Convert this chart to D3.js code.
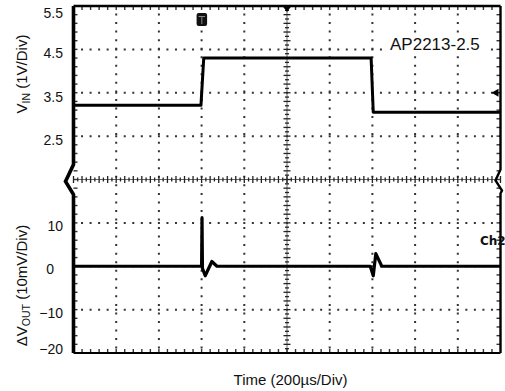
<!DOCTYPE html>
<html>
<head>
<meta charset="utf-8">
<script src="https://cdn.jsdelivr.net/npm/d3@7"></script>
<style>
  body { margin: 0; background: #fff; }
  text { font-family: "Liberation Sans", Arial, sans-serif; fill: #111; }
</style>
</head>
<body>
<script>
var width = 505;
var height = 391;
var pLeft = 73.5, pRight = 500.5, pTop = 6, pBottom = 353;
var mid = (pTop + pBottom) / 2;

// time in us (200us per division), 10 divisions
var timeDomain = [0, 2000];
var vinTime   = [0, 597, 610, 1394, 1404, 2000];
var vinValues = [3.21, 3.21, 4.30, 4.30, 3.05, 3.05];
var voutTime   = [0, 600, 602, 604, 617, 648, 672, 1390, 1404, 1416, 1444, 2000];
var voutValues = [0, 0, 11.2, -0.5, -2.2, 1.1, 0, 0, -2.2, 2.9, 0, 0];
var vinTicks  = [2.5, 3.5, 4.5, 5.5];
var voutTicks = [-20, -10, 0, 10];
var xDivs = d3.range(1, 10);
var yDivs = d3.range(1, 8);

var svg = d3.select("body")
            .append("svg")
            .attr("width", width)
            .attr("height", height);

var x = d3.scaleLinear().domain(timeDomain).range([pLeft, pRight]);
var yIn = d3.scaleLinear().domain([1.5, 5.5]).range([mid, pTop]);
var yOut = d3.scaleLinear().domain([-20, 20]).range([pBottom, mid]);
var xDiv = d3.scaleLinear().domain([0, 10]).range([pLeft, pRight]);
var yDiv = d3.scaleLinear().domain([0, 8]).range([pTop, pBottom]);
var p = (pRight - pLeft) / 50; // minor step

// dotted graticule
svg.append("g").selectAll("line")
  .data(xDivs.filter(function(d) { return d !== 5; }))
  .enter().append("line")
  .attr("x1", xDiv).attr("x2", xDiv)
  .attr("y1", pTop).attr("y2", pBottom)
  .attr("stroke", "#333").attr("stroke-width", 2)
  .attr("stroke-dasharray", "2," + (p - 2))
  .attr("stroke-dashoffset", 1);

svg.append("g").selectAll("line")
  .data(yDivs.filter(function(d) { return d !== 4; }))
  .enter().append("line")
  .attr("y1", yDiv).attr("y2", yDiv)
  .attr("x1", pLeft).attr("x2", pRight)
  .attr("stroke", "#333").attr("stroke-width", 2)
  .attr("stroke-dasharray", "2," + (p - 2))
  .attr("stroke-dashoffset", 1);

// center cross with minor ticks
var cx = xDiv(5);
svg.append("line").attr("x1", pLeft).attr("x2", pRight).attr("y1", mid).attr("y2", mid)
  .attr("stroke", "#666").attr("stroke-width", 1);
svg.append("line").attr("x1", cx).attr("x2", cx).attr("y1", pTop).attr("y2", pBottom)
  .attr("stroke", "#666").attr("stroke-width", 1);

var hTicks = d3.range(0, 101).map(function(i) { return pLeft + i * p / 2; });
svg.append("g").selectAll("line").data(hTicks).enter().append("line")
  .attr("x1", function(d) { return d; }).attr("x2", function(d) { return d; })
  .attr("y1", function(d, i) { return mid - (i % 2 ? 2 : 3.5); })
  .attr("y2", function(d, i) { return mid + (i % 2 ? 2 : 3.5); })
  .attr("stroke", "#222").attr("stroke-width", 1.3);

var vTicks = d3.range(0, 81).map(function(i) { return pTop + i * (pBottom - pTop) / 80; });
svg.append("g").selectAll("line").data(vTicks).enter().append("line")
  .attr("y1", function(d) { return d; }).attr("y2", function(d) { return d; })
  .attr("x1", function(d, i) { return cx - (i % 2 ? 2 : 3.5); })
  .attr("x2", function(d, i) { return cx + (i % 2 ? 2 : 3.5); })
  .attr("stroke", "#222").attr("stroke-width", 1.3);

// border ticks
var bx = d3.range(1, 50).map(function(i) { return pLeft + i * p; });
svg.append("g").selectAll("line").data(bx).enter().append("line")
  .attr("x1", function(d) { return d; }).attr("x2", function(d) { return d; })
  .attr("y1", pTop).attr("y2", pTop + 4)
  .attr("stroke", "#333").attr("stroke-width", 1.4);
svg.append("g").selectAll("line").data(bx).enter().append("line")
  .attr("x1", function(d) { return d; }).attr("x2", function(d) { return d; })
  .attr("y1", pBottom).attr("y2", pBottom - 4)
  .attr("stroke", "#333").attr("stroke-width", 1.4);
var by = d3.range(1, 40).map(function(i) { return pTop + i * (pBottom - pTop) / 40; });
svg.append("g").selectAll("line").data(by).enter().append("line")
  .attr("y1", function(d) { return d; }).attr("y2", function(d) { return d; })
  .attr("x1", pRight).attr("x2", pRight - 4)
  .attr("stroke", "#333").attr("stroke-width", 1.4);
svg.append("g").selectAll("line").data(by).enter().append("line")
  .attr("y1", function(d) { return d; }).attr("y2", function(d) { return d; })
  .attr("x1", pLeft).attr("x2", pLeft + 4)
  .attr("stroke", "#333").attr("stroke-width", 1.4);

// label box
svg.append("rect").attr("x", 385).attr("y", 33).attr("width", 101).attr("height", 22).attr("fill", "#fff");
svg.append("text").attr("x", 390).attr("y", 50).attr("font-size", 17).text("AP2213-2.5");

// traces
var lineIn = d3.line().x(function(d) { return x(d[0]); }).y(function(d) { return yIn(d[1]); });
var lineOut = d3.line().x(function(d) { return x(d[0]); }).y(function(d) { return yOut(d[1]); });

svg.append("path")
  .datum(d3.zip(vinTime, vinValues))
  .attr("d", lineIn)
  .attr("fill", "none").attr("stroke", "#000").attr("stroke-width", 3)
  .attr("stroke-linejoin", "round");

svg.append("path")
  .datum(d3.zip(voutTime, voutValues))
  .attr("d", lineOut)
  .attr("fill", "none").attr("stroke", "#000").attr("stroke-width", 3.2)
  .attr("stroke-linejoin", "round");

// border with break marks
svg.append("line").attr("x1", pLeft).attr("x2", pRight).attr("y1", pTop).attr("y2", pTop)
  .attr("stroke", "#000").attr("stroke-width", 2.6);
svg.append("line").attr("x1", pLeft).attr("x2", pRight).attr("y1", pBottom).attr("y2", pBottom)
  .attr("stroke", "#000").attr("stroke-width", 2.2);
svg.append("path")
  .attr("d", d3.line()([[pLeft, pTop], [pLeft, mid - 15], [pLeft - 8, mid + 2], [pLeft, mid + 15], [pLeft, pBottom]]))
  .attr("fill", "none").attr("stroke", "#000").attr("stroke-width", 3.6);
svg.append("path")
  .attr("d", d3.line()([[pRight, pTop], [pRight, mid - 10], [pRight - 5, mid + 1], [pRight + 1.5, mid + 11], [pRight, mid + 14], [pRight, pBottom]]))
  .attr("fill", "none").attr("stroke", "#000").attr("stroke-width", 2.4);

// markers
var tx = xDiv(3);
svg.append("rect").attr("x", tx - 5).attr("y", 13).attr("width", 10.5).attr("height", 13)
  .attr("rx", 2).attr("fill", "#111");
svg.append("path").attr("d", "M" + (tx - 3) + ",16.5H" + (tx + 3.5) + "M" + (tx + 0.25) + ",16.5V24")
  .attr("stroke", "#888").attr("stroke-width", 1).attr("fill", "none");
svg.append("path").attr("d", "M" + (cx - 4.5) + "," + pTop + "L" + (cx + 4.5) + "," + pTop + "L" + cx + "," + (pTop + 6) + "Z")
  .attr("fill", "#000");
svg.append("path").attr("d", "M" + (pRight - 9) + "," + yIn(3.5) + "L" + (pRight - 2) + "," + (yIn(3.5) - 4) + "L" + (pRight - 2) + "," + (yIn(3.5) + 4) + "Z")
  .attr("fill", "#000");
svg.append("text").attr("x", 480).attr("y", 245).attr("font-weight", "bold")
  .style("font-family", "'DejaVu Sans', sans-serif").attr("font-size", 12).text("Ch2");

// axes (labels only)
var axIn = svg.append("g").attr("transform", "translate(" + pLeft + ",0)")
  .call(d3.axisLeft(yIn).tickValues(vinTicks).tickSize(0).tickPadding(10.5).tickFormat(d3.format(".1f")));
var axOut = svg.append("g").attr("transform", "translate(" + pLeft + ",0)")
  .call(d3.axisLeft(yOut).tickValues(voutTicks).tickSize(0).tickPadding(10.5).tickFormat(d3.format("d")));
[axIn, axOut].forEach(function(ax) {
  ax.select(".domain").remove();
  ax.selectAll("text").attr("font-size", 14).attr("fill", "#111")
    .style("font-family", "'Liberation Sans', Arial, sans-serif");
});
axIn.selectAll("text").attr("dy", function(d) { return d === 5.5 ? "0.85em" : "0.6em"; });
axOut.selectAll("text")
  .attr("dy", function(d) { return d === -20 ? "0.05em" : "0.55em"; })
  .attr("dx", function(d) { return d === 0 ? -9 : 0; });

// axis titles
var tIn = svg.append("text").attr("transform", "translate(26.5,74) rotate(-90)")
  .attr("text-anchor", "middle").attr("font-size", 15);
tIn.append("tspan").text("V");
tIn.append("tspan").attr("font-size", 10.5).attr("dy", 3).text("IN");
tIn.append("tspan").attr("dy", -3).text(" (1V/Div)");

var tOut = svg.append("text").attr("transform", "translate(26.5,285.5) rotate(-90)")
  .attr("text-anchor", "middle").attr("font-size", 15);
tOut.append("tspan").text("\u0394V");
tOut.append("tspan").attr("font-size", 10.5).attr("dy", 3).text("OUT");
tOut.append("tspan").attr("dy", -3).text(" (10mV/Div)");

svg.append("text").attr("x", 290.5).attr("y", 385).attr("text-anchor", "middle")
  .attr("font-size", 15).text("Time (200\u00b5s/Div)");
</script>
</body>
</html>
